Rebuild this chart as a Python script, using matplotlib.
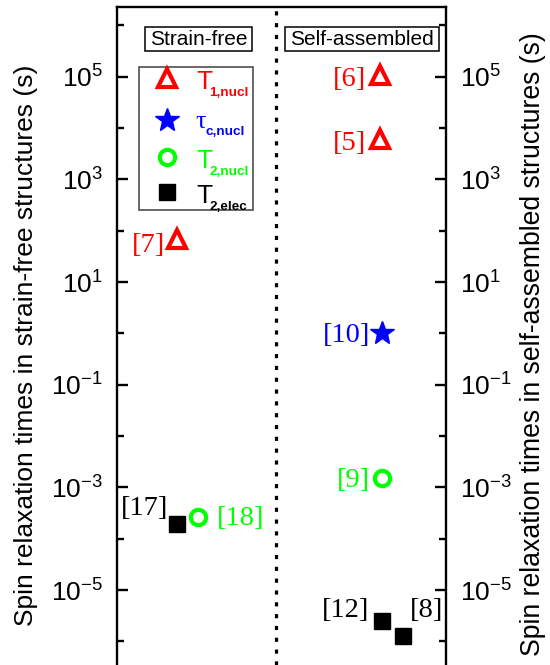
import matplotlib
matplotlib.use("Agg")
import matplotlib.pyplot as plt
from matplotlib.ticker import FixedLocator, NullFormatter, FixedFormatter
from matplotlib.patches import Rectangle

plt.rcParams['font.family'] = ['Liberation Sans', 'DejaVu Sans']
plt.rcParams['mathtext.fontset'] = 'custom'
plt.rcParams['mathtext.rm'] = 'Liberation Sans'
plt.rcParams['mathtext.it'] = 'Liberation Sans:italic'
plt.rcParams['mathtext.bf'] = 'Liberation Sans:bold'

# ---- data ----
colors = ["#ff0000", "#0000ff", "#00ff00", "#000000"]
legend_main = ["T", "\u03c4", "T", "T"]
legend_sub = ["1,nucl", "c,nucl", "2,nucl", "2,elec"]

# T1,nucl points
t1_x = [0.182, 0.800, 0.800]
t1_y = [68, 1.1e5, 6.2e3]
t1_ref = ["[7]", "[6]", "[5]"]
# tau_c,nucl
tc_x = [0.805]
tc_y = [1.0]
tc_ref = ["[10]"]
# T2,nucl
t2n_x = [0.246, 0.805]
t2n_y = [2.6e-4, 1.5e-3]
t2n_ref = ["[18]", "[9]"]
# T2,elec
t2e_x = [0.182, 0.805, 0.869]
t2e_y = [1.9e-4, 2.5e-6, 1.3e-6]
t2e_ref = ["[17]", "[12]", "[8]"]

divider_x = 0.483
major_ticks = [1e-5, 1e-3, 1e-1, 1e1, 1e3, 1e5]
tick_labels = ["$10^{-5}$", "$10^{-3}$", "$10^{-1}$", "$10^{1}$", "$10^{3}$", "$10^{5}$"]
minor_ticks = [1e-6, 1e-4, 1e-2, 1e0, 1e2, 1e4, 1e6]
region_labels = ["Strain-free", "Self-assembled"]
ylabel_left = "Spin relaxation times in strain-free structures (s)"
ylabel_right = "Spin relaxation times in self-assembled structures (s)"

W, H = 550, 665
fig = plt.figure(figsize=(W / 100, H / 100), dpi=100)

def fx(x):
    return x / W

def fy(y):
    return 1 - y / H

ax = fig.add_axes([fx(117), 0.0, (446 - 117) / W, (665 - 7) / H])
ax.set_yscale('log')
ax.set_xlim(0, 1)
ax.set_ylim(10 ** -6.46, 10 ** 6.36)

tri = dict(ls='none', marker='^', ms=13, mfc='none', mec=colors[0], mew=3)
star = dict(ls='none', marker='*', ms=18, color=colors[1], mec=colors[1])
circ = dict(ls='none', marker='o', ms=11, mfc='none', mec=colors[2], mew=3)
sq = dict(ls='none', marker='s', ms=12, color=colors[3])

ax.plot(t1_x, t1_y, **tri)
ax.plot(tc_x, tc_y, **star)
ax.plot(t2n_x, t2n_y, **circ)
ax.plot(t2e_x, t2e_y, **sq)

ax.axvline(divider_x, color='black', ls=(0, (1.3, 2.4)), lw=2.3)

ref_font = dict(family='Liberation Serif', fontsize=20.5)
def ref(x, y, s, c, dx, dy, ha):
    # offsets given in pixels
    ax.annotate(s, (x, y), xytext=(dx * 0.72, dy * 0.72), textcoords='offset points',
                ha=ha, va='center', color=c, **ref_font)

ref(t1_x[0], t1_y[0], t1_ref[0], colors[0], -12, -6, 'right')
ref(t1_x[1], t1_y[1], t1_ref[1], colors[0], -14, -5, 'right')
ref(t1_x[2], t1_y[2], t1_ref[2], colors[0], -14, -5, 'right')
ref(tc_x[0], tc_y[0], tc_ref[0], colors[1], -12, -2, 'right')
ref(t2n_x[0], t2n_y[0], t2n_ref[0], colors[2], 19, -1, 'left')
ref(t2n_x[1], t2n_y[1], t2n_ref[1], colors[2], -12, -2, 'right')
ref(t2e_x[0], t2e_y[0], t2e_ref[0], colors[3], -9, 16, 'right')
ref(t2e_x[1], t2e_y[1], t2e_ref[1], colors[3], -13, 10, 'right')
ref(t2e_x[2], t2e_y[2], t2e_ref[2], colors[3], 7, 25, 'left')

# region boxes
for (x0, x1), lab in zip([(145, 252), (285, 439)], region_labels):
    ax.add_patch(Rectangle((fx(x0), fy(51)), (x1 - x0) / W, 24 / H, transform=fig.transFigure,
                           fc='white', ec='black', lw=1.1, clip_on=False, zorder=3))
    ax.text(fx((x0 + x1) / 2), fy(39.5), lab, transform=fig.transFigure,
            ha='center', va='center', fontsize=15, zorder=4)

# legend (manual)
ax.add_patch(Rectangle((fx(139), fy(210)), (253 - 139) / W, (210 - 67) / H,
                       transform=fig.transFigure, fc='white', ec='#404040', lw=1.1,
                       clip_on=False, zorder=3))
row_y = [78, 120, 157, 192]
styles = [tri, star, circ, sq]
for yy, st, c, m, s in zip(row_y, styles, colors, legend_main, legend_sub):
    ax.plot([fx(167)], [fy(yy)], transform=fig.transFigure, clip_on=False, zorder=4, **st)
    if m == "T":
        ax.text(fx(196), fy(yy + 4), m, transform=fig.transFigure, ha='left', va='center',
                color=c, fontsize=19, zorder=4)
        ax.text(fx(209), fy(yy + 15), s, transform=fig.transFigure, ha='left', va='center',
                color=c, fontsize=9.7, fontweight='bold', zorder=4)
    else:
        ax.text(fx(195), fy(yy + 2), m, transform=fig.transFigure, ha='left', va='center',
                color=c, fontsize=19, family='Liberation Serif', zorder=4)
        ax.text(fx(206), fy(yy + 12), s, transform=fig.transFigure, ha='left', va='center',
                color=c, fontsize=9.7, fontweight='bold', zorder=4)

# axes styling
for side in ['left', 'right', 'top']:
    ax.spines[side].set_linewidth(1.7)
ax.spines['bottom'].set_visible(False)
ax.set_xticks([])
ax.yaxis.set_major_locator(FixedLocator(major_ticks))
ax.yaxis.set_major_formatter(FixedFormatter(tick_labels))
ax.yaxis.set_minor_locator(FixedLocator(minor_ticks))
ax.yaxis.set_minor_formatter(NullFormatter())
ax.tick_params(axis='y', which='major', direction='in', length=8, width=1.7,
               labelsize=19, left=True, right=True, labelleft=True, labelright=True, pad=10)
ax.tick_params(axis='y', which='minor', direction='in', length=5, width=1.7, left=True, right=True)

fig.text(fx(26), fy(345), ylabel_left, rotation=90, ha='center', va='center', fontsize=19)
fig.text(fx(533), fy(344), ylabel_right, rotation=90, ha='center', va='center', fontsize=19.2)

fig.savefig("out.png", dpi=100)
